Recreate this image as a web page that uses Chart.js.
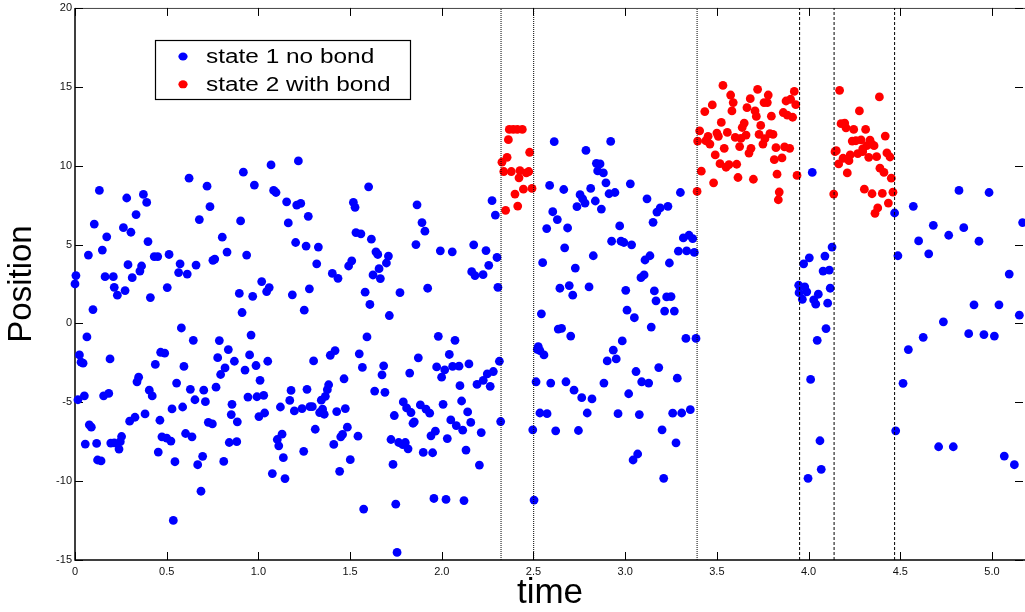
<!DOCTYPE html>
<html>
<head>
<meta charset="utf-8">
<script src="https://cdn.jsdelivr.net/npm/chart.js@4.4.1/dist/chart.umd.min.js"></script>
<style>
html,body{margin:0;padding:0;background:#fff;}
#wrap{width:1025px;height:612px;position:relative;}
</style>
</head>
<body>
<div id="wrap"><canvas id="c"></canvas></div>
<script>
// ---- data (time, position) ----
const xTickValues = [0, 0.5, 1, 1.5, 2, 2.5, 3, 3.5, 4, 4.5, 5];
const yTickValues = [-15, -10, -5, 0, 5, 10, 15, 20];
const xRange = [0, 5.18];
const yRange = [-15, 20];
const seriesLabels = ['state 1 no bond', 'state 2 with bond'];
const boundaryTimes = [2.323, 2.501, 3.392, 3.951, 4.139, 4.469];

const stateOnePoints = [
 [0.005,3.03],[0,2.5],[0.073,4.33],[0.105,6.3],[0.133,8.43],[0.173,5.49],[0.149,4.65],[0.164,2.96],[0.209,2.96],[0.214,2.29],
 [0.273,2.08],[0.264,6.07],[0.282,7.95],[0.289,3.72],[0.305,5.78],[0.312,2.9],[0.333,6.9],[0.354,3.32],[0.363,3.64],[0.373,8.18],
 [0.391,7.67],[0.398,5.19],[0.432,4.24],[0.451,4.24],[0.503,2.27],[0.513,4.37],[0.565,3.22],[0.573,3.78],[0.612,3.13],[0.622,9.21],
 [0.66,3.7],[0.678,6.58],[0.72,8.7],[0.736,7.4],[0.752,4.0],[0.762,4.08],[0.803,5.47],[0.829,4.52],[0.903,6.5],[0.918,9.59],
 [0.936,4.33],[0.896,1.9],[0.978,8.77],[1.018,2.65],[1.059,2.27],[1.069,10.05],[1.083,8.43],[1.096,8.3],[1.154,7.71],[1.163,6.37],
 [1.209,7.5],[1.231,7.61],[1.203,5.13],[1.26,4.9],[1.218,10.3],[1.272,6.79],[1.278,2.19],
 [0.231,1.79],[0.411,1.64],[0.098,0.88],[0.911,0.69],[0.969,1.72],[1.045,2.02],[1.185,1.81],[1.25,0.84],[0.58,-0.29],[0.065,-0.86],
 [0.645,-1.07],[0.787,-1.09],[0.024,-2.0],[0.033,-2.46],[0.044,-2.52],[0.191,-2.25],[0.467,-1.83],[0.489,-1.89],[0.438,-2.6],[0.594,-2.73],
 [0.778,-2.17],[0.836,-1.66],[0.869,-2.4],[0.818,-2.82],[0.794,-3.24],[0.96,-0.74],[0.952,-2.0],[0.927,-2.96],[0.987,-2.67],[1.051,-2.4],
 [1.009,-3.61],[0.347,-3.41],[0.338,-3.7],[0.405,-4.23],[0.421,-4.6],[0.554,-3.78],[0.629,-4.18],[0.702,-4.23],[0.769,-4.04],[0.654,-4.84],
 [0.711,-4.96],[0.943,-4.67],[0.992,-4.65],[1.029,-4.56],[1.178,-4.25],[1.265,-4.18],[1.171,-4.88],[1.12,-5.3],[1.196,-5.55],[1.238,-5.4],
 [1.281,-5.28],[0.016,-4.84],[0.051,-4.59],[0.156,-4.59],[0.184,-4.44],[0.529,-5.42],[0.587,-5.3],[0.856,-5.13],[0.852,-5.78],[0.382,-5.74],
 [0.327,-5.95],[0.298,-6.2],[0.463,-6.14],[0.885,-6.24],[0.727,-6.27],[0.749,-6.37],[1.003,-5.91],[1.034,-5.68],[0.078,-6.43],[0.089,-6.58],
 [0.474,-7.19],[0.5,-7.27],[0.523,-7.46],[0.603,-6.98],[0.638,-7.19],[0.254,-7.17],[0.247,-7.5],[0.195,-7.59],[0.214,-7.57],[0.24,-7.97],
 [0.056,-7.65],[0.118,-7.61],[0.841,-7.55],[0.882,-7.5],[1.103,-7.36],[1.129,-7.02],[1.111,-7.76],[0.454,-8.16],[0.545,-8.77],[0.696,-8.43],
 [0.669,-8.96],[0.811,-8.75],[0.123,-8.66],[0.142,-8.72],[1.247,-8.11],[1.136,-8.51],[1.076,-9.52],[1.145,-9.84],[0.687,-10.64],[0.536,-12.49],
 [1.327,4.84],[1.318,3.78],[1.403,3.17],[1.434,2.86],[1.492,3.64],[1.509,3.97],[1.518,7.67],[1.527,7.36],[1.601,8.66],[1.532,5.76],
 [1.559,5.68],[1.616,5.34],[1.641,4.54],[1.651,4.37],[1.709,4.27],[1.698,3.83],[1.658,3.47],[1.625,3.07],[1.665,2.84],[1.582,1.98],
 [1.772,1.95],[1.923,2.23],[1.865,7.52],[1.892,6.39],[1.908,5.85],[1.859,5.0],[1.992,4.6],[2.057,4.54],[2.174,4.98],[2.241,4.62],
 [2.274,7.78],[2.292,6.87],[2.301,4.18],[2.256,3.68],[2.163,3.28],[2.181,3.03],[2.225,3.09],[2.306,2.29],[2.55,3.85],
 [1.608,1.2],[1.714,0.5],[2.543,0.61],[1.592,-0.86],[1.981,-0.82],[2.072,-1.07],[1.301,-2.38],[1.392,-2.02],[1.418,-1.72],[1.55,-1.93],
 [1.567,-2.79],[1.872,-2.18],[2.041,-1.97],[1.683,-2.69],[1.674,-3.26],[1.825,-3.15],[1.972,-2.76],[2.016,-2.94],[1.999,-3.41],[2.059,-2.73],
 [2.094,-2.71],[2.148,-2.57],[2.314,-2.4],[2.281,-3.05],[2.248,-3.2],[2.226,-3.61],[2.192,-3.87],[2.264,-3.99],[2.099,-3.95],[1.467,-3.51],
 [1.383,-3.89],[1.376,-4.2],[1.365,-4.62],[1.343,-4.87],[1.634,-4.29],[1.69,-4.37],[1.294,-5.28],[1.334,-5.65],[1.359,-5.76],[1.35,-5.44],
 [1.427,-5.59],[1.474,-5.4],[1.79,-4.98],[1.808,-5.36],[1.832,-5.65],[1.741,-5.84],[1.883,-5.17],[1.914,-5.44],[1.934,-5.69],[2.007,-5.13],
 [2.108,-4.92],[2.141,-5.61],[1.843,-6.33],[1.85,-6.24],[2.049,-6.12],[2.079,-6.48],[2.114,-6.77],[2.158,-6.28],[2.321,-6.22],[1.31,-6.71],
 [1.485,-6.58],[1.459,-7.04],[1.449,-7.19],[1.543,-7.15],[1.965,-6.83],[1.941,-7.13],[2.03,-7.3],[2.215,-6.92],[1.723,-7.36],[1.765,-7.55],
 [1.801,-7.55],[1.787,-7.69],[1.816,-7.95],[1.411,-7.67],[1.501,-8.64],[1.899,-8.18],[1.95,-8.2],[2.132,-8.03],[1.734,-8.94],[2.205,-8.98],
 [1.443,-9.38],[1.957,-11.1],[2.023,-11.16],[2.121,-11.23],[1.749,-11.46],[1.574,-11.77],[1.756,-14.52],[2.503,-11.2],[2.496,-6.75],[2.535,-5.68],
 [2.514,-3.7],[2.526,-1.47],[2.521,-1.64],[2.535,-1.72],[2.557,-2.0],
 [2.613,11.52],[2.921,11.54],[2.786,10.97],[2.843,10.15],[2.863,10.11],[2.85,9.67],[2.881,9.54],[2.895,8.91],[3.028,8.85],[2.588,8.75],
 [2.665,8.49],[2.812,8.56],[2.754,8.16],[2.768,7.9],[2.781,7.63],[2.837,7.76],[2.912,8.22],[2.944,8.3],[2.737,7.4],[2.87,7.25],
 [3.119,7.9],[3.301,8.3],[2.605,7.08],[2.63,6.58],[2.572,6.01],[2.686,6.05],[2.97,6.18],[3.173,7.06],[3.191,7.32],[3.233,7.42],
 [3.152,6.41],[2.926,5.21],[2.977,5.21],[2.993,5.13],[3.035,4.98],[2.67,4.79],[2.826,4.29],[2.728,3.51],[3.108,4.02],[3.135,4.29],
 [3.241,3.83],[3.317,5.42],[3.348,5.59],[3.368,5.38],[3.29,4.58],[3.335,4.6],[3.377,4.5],[3.086,2.9],[3.103,3.07],[2.644,2.23],
 [2.695,2.4],[2.803,2.31],[3.003,2.1],[3.159,2.06],
 [2.714,1.79],[3.168,1.43],[3.226,1.68],[3.25,1.7],[3.215,0.78],[3.268,0.78],[3.01,0.84],[3.05,0.36],[3.142,-0.23],[2.635,-0.36],
 [2.653,-0.32],[2.703,-0.8],[3.331,-0.95],[3.386,-0.95],[2.984,-1.11],[2.935,-1.7],[2.902,-2.38],[2.951,-2.25],[3.059,-3.05],[3.183,-2.8],
 [3.284,-3.47],[2.594,-3.78],[2.677,-3.7],[2.721,-4.23],[2.763,-4.71],[2.819,-4.79],[2.884,-3.78],[3.019,-4.46],[3.09,-3.7],[3.128,-3.78],
 [2.574,-5.72],[2.793,-5.68],[2.961,-5.72],[3.077,-5.78],[3.259,-5.69],[3.308,-5.68],[3.355,-5.47],[2.621,-6.81],[2.745,-6.79],[3.201,-6.75],
 [3.277,-7.57],[3.068,-8.28],[3.043,-8.66],[3.21,-9.82],
 [4.02,9.57],[4.469,7.0],[4.571,7.42],[4.82,8.43],[4.984,8.3],[4.68,6.22],[4.846,6.07],[4.764,5.59],[4.6,5.23],[4.929,5.21],
 [5.167,6.39],[4.487,4.29],[4.655,4.41],[5.094,3.13],[4.128,4.84],[4.089,4.27],[4.004,4.16],[3.973,3.78],[4.079,3.32],[4.113,3.38],
 [3.946,2.42],[3.979,2.31],[4.118,2.23],[3.99,2.0],[3.948,1.95],[3.966,1.53],[4.028,1.49],[4.039,1.22],[4.053,1.85],[4.104,1.28],
 [4.095,-0.33],[4.047,-1.07],[4.011,-3.55],[4.062,-7.44],[4.069,-9.25],[3.997,-9.82],[4.902,1.18],[5.038,1.18],[5.149,0.52],[4.735,0.1],
 [4.873,-0.65],[4.956,-0.71],[5.013,-0.8],[4.625,-0.88],[4.544,-1.66],[4.515,-3.8],[4.475,-6.81],[4.709,-7.82],[4.789,-7.82],[5.067,-8.41],
 [5.122,-8.96]
];

const stateTwoPoints = [
 [2.368,12.3],[2.39,12.3],[2.412,12.3],[2.439,12.3],[2.363,11.65],[2.479,10.85],[2.356,10.53],[2.328,10.22],[2.338,9.63],[2.379,9.63],
 [2.426,9.69],[2.474,9.63],[2.461,9.54],[2.421,9.23],[2.445,8.51],[2.492,8.56],[2.399,8.2],[2.414,7.44],[2.348,7.17],
 [3.392,8.37],[3.533,15.09],[3.575,14.48],[3.589,14.0],[3.722,14.84],[3.78,14.48],[3.757,14.0],[3.775,14.0],[3.682,14.25],[3.475,13.85],
 [3.434,13.43],[3.582,13.47],[3.664,13.68],[3.708,13.47],[3.715,13.12],[3.797,13.14],[3.524,12.74],[3.649,12.7],[3.638,12.42],[3.739,12.55],
 [3.406,12.21],[3.395,11.56],[3.452,11.86],[3.439,11.58],[3.462,11.37],[3.5,12.07],[3.508,11.86],[3.557,12.11],[3.6,11.79],[3.631,11.73],
 [3.659,11.94],[3.73,11.98],[3.762,11.71],[3.789,12.03],[3.806,11.98],[3.751,11.37],[3.54,11.1],[3.624,11.21],[3.686,11.1],[3.675,10.8],
 [3.822,11.14],[3.491,10.68],[3.517,10.13],[3.55,9.9],[3.566,10.07],[3.608,10.09],[3.813,10.38],[3.415,9.65],[3.828,9.46],[3.482,8.91],
 [3.615,9.25],[3.699,9.14],[3.84,8.33],[3.835,7.84],[3.922,14.71],[3.877,14.1],[3.902,14.21],[3.93,13.87],[3.862,13.37],[3.884,13.2],
 [3.913,13.07],[3.869,11.19],[3.897,11.1],[3.855,10.49],[3.937,9.38],
 [4.169,14.78],[4.386,14.36],[4.277,13.47],[4.177,12.66],[4.197,12.7],[4.204,12.4],[4.246,12.3],[4.311,12.3],[4.418,11.88],[4.238,11.56],
 [4.258,11.58],[4.286,11.64],[4.335,11.62],[4.151,10.95],[4.144,10.89],[4.295,11.06],[4.317,11.27],[4.344,11.37],[4.357,11.27],[4.227,10.68],
 [4.268,10.76],[4.295,10.89],[4.427,10.81],[4.444,10.55],[4.328,10.53],[4.371,10.57],[4.188,10.47],[4.22,10.32],[4.164,10.11],[4.211,9.54],
 [4.389,9.84],[4.411,9.57],[4.451,9.21],[4.137,8.2],[4.304,8.51],[4.346,8.22],[4.402,8.24],[4.46,8.32],[4.435,7.63],[4.377,7.32],
 [4.362,6.98]
];

// ---- chart ----
const toXY = arr => arr.map(p => ({x: p[0], y: p[1]}));

const boundaryDatasets = boundaryTimes.map((t, i) => ({
  label: 'boundary ' + (i + 1),
  data: [{x: t, y: yRange[0]}, {x: t, y: yRange[1]}],
  showLine: true,
  borderColor: '#000',
  borderWidth: 1,
  borderDash: i < 3 ? [1, 1] : [3, 2],
  pointRadius: 0,
  order: 0
}));

const boxPlugin = {
  id: 'matlabBox',
  beforeDatasetsDraw(chart) {
    const {ctx, chartArea: a, scales: {x, y}} = chart;
    ctx.save();
    ctx.strokeStyle = '#000';
    ctx.lineWidth = 1.5;
    ctx.beginPath();
    ctx.moveTo(a.left, a.top); ctx.lineTo(a.left, a.bottom); ctx.lineTo(a.right, a.bottom);
    ctx.stroke();
    ctx.lineWidth = 1;
    ctx.strokeStyle = '#444';
    ctx.beginPath();
    ctx.moveTo(a.left, a.top + 0.5); ctx.lineTo(a.right, a.top + 0.5);
    ctx.stroke();
    ctx.strokeStyle = '#000';
    ctx.beginPath();
    const tl = 8;
    xTickValues.forEach(v => {
      const px = Math.round(x.getPixelForValue(v)) + 0.5;
      ctx.moveTo(px, a.bottom); ctx.lineTo(px, a.bottom - tl);
      ctx.moveTo(px, a.top); ctx.lineTo(px, a.top + tl);
    });
    yTickValues.forEach(v => {
      const py = Math.round(y.getPixelForValue(v)) + 0.5;
      ctx.moveTo(a.left, py); ctx.lineTo(a.left + tl, py);
      ctx.moveTo(a.right - 2, py); ctx.lineTo(a.right - 2 - tl, py);
    });
    ctx.stroke();
    ctx.restore();
  },
  afterDraw(chart) {
    const {ctx} = chart;
    const colors = ['#0000ff', '#ff0000'];
    ctx.save();
    ctx.fillStyle = '#fff';
    ctx.fillRect(156, 41, 255, 59);
    ctx.strokeStyle = '#000';
    ctx.lineWidth = 1.2;
    ctx.strokeRect(155.5, 40.5, 255, 59);
    seriesLabels.forEach((lab, i) => {
      const cy = 56.5 + i * 27.8;
      ctx.fillStyle = colors[i];
      ctx.beginPath();
      ctx.ellipse(183, cy, 4.6, 4, 0, 0, Math.PI * 2);
      ctx.fill();
      ctx.save();
      ctx.translate(206, cy);
      ctx.scale(1.22, 1);
      ctx.fillStyle = '#000';
      ctx.font = '20px "Liberation Sans", Arial, sans-serif';
      ctx.textBaseline = 'middle';
      ctx.textAlign = 'left';
      ctx.fillText(lab, 0, 1);
      ctx.restore();
    });
    ctx.restore();
  }
};

new Chart(document.getElementById('c'), {
  type: 'scatter',
  data: {
    datasets: [
      ...boundaryDatasets,
      {
        label: seriesLabels[0],
        data: toXY(stateOnePoints),
        backgroundColor: '#0000ff',
        borderWidth: 0,
        pointRadius: 4.4,
        pointHoverRadius: 4.4,
        order: 1,
        clip: false
      },
      {
        label: seriesLabels[1],
        data: toXY(stateTwoPoints),
        backgroundColor: '#ff0000',
        borderWidth: 0,
        pointRadius: 4.4,
        pointHoverRadius: 4.4,
        order: 1,
        clip: false
      }
    ]
  },
  options: {
    responsive: true,
    maintainAspectRatio: false,
    animation: false,
    layout: {autoPadding: false, padding: {top: 5, right: 0, left: 0, bottom: 0}},
    plugins: {legend: {display: false}, tooltip: {enabled: false}},
    scales: {
      x: {
        type: 'linear',
        position: 'bottom',
        min: xRange[0],
        max: xRange[1],
        afterFit(s) { s.height = 52; },
        afterBuildTicks(s) { s.ticks = xTickValues.map(v => ({value: v})); },
        grid: {display: false, drawTicks: false},
        border: {display: false},
        ticks: {
          color: '#111',
          font: {family: '"Liberation Sans", Arial, sans-serif', size: 11},
          padding: 5,
          maxRotation: 0,
          autoSkip: false
        },
        title: {
          display: true,
          text: 'time',
          color: '#000',
          font: {family: '"Liberation Sans", Arial, sans-serif', size: 35, lineHeight: 1.05},
          padding: 0
        }
      },
      y: {
        type: 'linear',
        min: yRange[0],
        max: yRange[1],
        afterFit(s) { s.width = 75; },
        afterBuildTicks(s) { s.ticks = yTickValues.map(v => ({value: v})); },
        grid: {display: false, drawTicks: false},
        border: {display: false},
        ticks: {
          color: '#111',
          font: {family: '"Liberation Sans", Arial, sans-serif', size: 11, lineHeight: 0.9},
          padding: 3
        },
        title: {
          display: true,
          text: 'Position',
          color: '#000',
          font: {family: '"Liberation Sans", Arial, sans-serif', size: 33, lineHeight: 1.2},
          padding: {top: 2, bottom: 0}
        }
      }
    }
  },
  plugins: [boxPlugin]
});
</script>
</body>
</html>
